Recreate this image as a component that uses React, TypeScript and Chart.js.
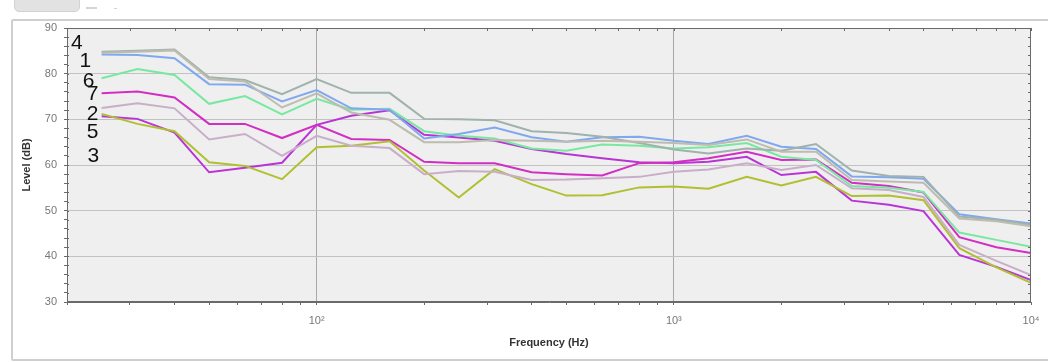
import React, { useEffect, useRef } from 'react';
import { Chart, registerables } from 'chart.js';
Chart.register(...registerables);

const frequencies = [25, 31.5, 40, 50, 63, 80, 100, 125, 160, 200, 250, 315, 400, 500, 630, 800, 1000, 1250, 1600, 2000, 2500, 3150, 4000, 5000, 6300, 8000, 10000];

const levels4 = [84.8, 85.0, 85.3, 79.2, 78.6, 75.5, 78.8, 75.8, 75.8, 70.1, 70.0, 69.8, 67.4, 67.0, 66.2, 64.8, 63.4, 62.5, 63.6, 63.1, 64.6, 58.8, 57.6, 57.4, 48.7, 48.0, 46.9];
const levelsMean = [84.6, 84.8, 85.1, 78.8, 78.3, 72.6, 75.7, 71.5, 69.9, 65.0, 65.0, 65.5, 65.3, 65.1, 65.3, 65.1, 64.8, 64.4, 65.6, 62.9, 62.9, 56.7, 56.4, 56.1, 48.3, 47.7, 46.6];
const levels1 = [84.2, 84.1, 83.4, 77.7, 77.6, 73.9, 76.4, 72.4, 72.1, 65.8, 66.8, 68.2, 66.1, 65.1, 66.1, 66.2, 65.3, 64.6, 66.4, 64.0, 63.5, 57.5, 57.3, 57.0, 49.2, 48.1, 47.2];
const levels6 = [79.0, 81.0, 79.7, 73.4, 75.1, 71.1, 74.5, 72.1, 72.3, 67.4, 66.4, 65.8, 63.6, 63.1, 64.5, 64.2, 63.6, 63.9, 64.8, 61.8, 61.1, 55.4, 55.0, 54.1, 45.2, 43.6, 42.1];
const levels7 = [75.7, 76.1, 74.8, 69.0, 69.0, 65.9, 68.8, 65.7, 65.5, 60.7, 60.4, 60.4, 58.4, 58.0, 57.7, 60.4, 60.6, 61.5, 62.9, 61.1, 61.2, 56.1, 55.4, 54.0, 44.2, 42.0, 40.7];
const levels5 = [70.7, 70.1, 67.1, 58.4, 59.4, 60.5, 68.8, 70.8, 72.0, 66.6, 66.0, 65.3, 63.5, 62.4, 61.5, 60.6, 60.4, 60.7, 61.8, 57.8, 58.5, 52.2, 51.3, 49.9, 40.3, 37.7, 34.8];
const levels2 = [72.5, 73.5, 72.4, 65.6, 66.8, 62.0, 66.4, 64.2, 63.7, 58.0, 58.7, 58.5, 56.7, 56.8, 57.1, 57.4, 58.5, 59.0, 60.4, 58.9, 60.0, 54.9, 54.5, 53.0, 42.5, 39.0, 35.9];
const levels3 = [71.2, 69.0, 67.4, 60.6, 59.8, 56.9, 63.9, 64.2, 65.2, 58.8, 52.9, 59.1, 55.8, 53.3, 53.4, 55.1, 55.3, 54.8, 57.4, 55.5, 57.4, 53.2, 53.3, 52.3, 41.8, 37.6, 34.2];

const seriesNames = ['mean', '4', '1', '6', '2', '3', '7', '5'];
const seriesLevels = [levelsMean, levels4, levels1, levels6, levels2, levels3, levels7, levels5];
const seriesColors = ['#bdbcae', '#9fb2ad', '#80a8f0', '#78e8a0', '#c8aec8', '#b0c030', '#d22ec4', '#b934d6'];

const labelTexts = ['4', '1', '6', '7', '2', '5', '3'];
const labelFreqs = [21.3, 22.5, 23.0, 23.6, 23.6, 23.6, 23.7];
const labelLevels = [87.15, 83.1, 78.7, 75.9, 71.5, 67.55, 62.4];

const xMin = 20;
const xMax = 10000;
const yMin = 30;
const yMax = 90;
const yStep = 2;
const xTitle = 'Frequency (Hz)';
const yTitle = 'Level (dB)';

const FONT = '"Liberation Sans", Arial, sans-serif';
const supers: Record<string, string> = { '0': '⁰', '1': '¹', '2': '²', '3': '³', '4': '⁴', '5': '⁵' };

const isDecade = (v: number) => {
  const l = Math.log10(v);
  return Math.abs(l - Math.round(l)) < 1e-9;
};

const decorPlugin = {
  id: 'decor',
  beforeDraw(chart: any) {
    const { ctx, chartArea: a } = chart;
    ctx.save();
    ctx.fillStyle = '#efefef';
    ctx.fillRect(a.left, a.top, a.right - a.left, a.bottom - a.top);
    ctx.restore();
  },
  afterDraw(chart: any) {
    const { ctx, chartArea: a } = chart;
    const xs = chart.scales.x;
    const ys = chart.scales.y;
    ctx.save();
    ctx.strokeStyle = '#6a6a6a';
    ctx.lineWidth = 1;
    ctx.strokeRect(a.left + 0.5, a.top + 0.5, a.right - a.left - 1, a.bottom - a.top - 1);
    ctx.beginPath();
    xs.ticks.forEach((t: any) => {
      const px = Math.round(xs.getPixelForValue(t.value)) + 0.5;
      ctx.moveTo(px, a.top);
      ctx.lineTo(px, a.top + 3);
    });
    ys.ticks.forEach((t: any) => {
      const py = Math.round(ys.getPixelForValue(t.value)) + 0.5;
      ctx.moveTo(a.right, py);
      ctx.lineTo(a.right - 3, py);
      ctx.moveTo(a.left, py);
      ctx.lineTo(a.left + 2, py);
    });
    ctx.stroke();
    ctx.fillStyle = '#111';
    ctx.font = `21px ${FONT}`;
    ctx.textAlign = 'center';
    ctx.textBaseline = 'alphabetic';
    labelTexts.forEach((txt, i) => {
      const px = xs.getPixelForValue(labelFreqs[i]);
      const py = ys.getPixelForValue(labelLevels[i]);
      ctx.fillText(txt, px, py + 7.5);
    });
    ctx.restore();
  },
};

export default function App() {
  const ref = useRef<HTMLCanvasElement | null>(null);
  useEffect(() => {
    document.body.style.margin = '0';
    const canvas = ref.current;
    if (!canvas) return;
    const chart = new Chart(canvas, {
      type: 'line',
      data: {
        datasets: seriesNames.map((name, i) => ({
          label: name,
          data: frequencies.map((f, j) => ({ x: f, y: seriesLevels[i][j] })),
          borderColor: seriesColors[i],
          backgroundColor: seriesColors[i],
          borderWidth: 2,
          pointRadius: 0,
          tension: 0,
          fill: false,
        })),
      },
      options: {
        animation: false,
        responsive: false,
        maintainAspectRatio: false,
        events: [],
        layout: { padding: { left: 0, top: 28, right: 17, bottom: 0 } },
        plugins: {
          legend: { display: false },
          tooltip: { enabled: false },
          title: { display: false },
        },
        scales: {
          x: {
            type: 'logarithmic',
            min: xMin,
            max: xMax,
            afterBuildTicks: (s: any) => {
              s.ticks = s.ticks.filter((t: any) => {
                const e = Math.pow(10, Math.floor(Math.log10(t.value) + 1e-9));
                const r = t.value / e;
                return Math.abs(r - Math.round(r)) < 1e-6;
              });
            },
            afterFit: (s: any) => {
              s.height = 60;
              s.paddingLeft = 0;
              s.paddingRight = 0;
            },
            border: { display: true, color: '#6a6a6a', width: 1 },
            grid: {
              color: (c: any) => (c.tick && isDecade(c.tick.value) && c.tick.value > xMin && c.tick.value < xMax ? '#a8a8a8' : 'rgba(0,0,0,0)'),
              tickColor: '#6a6a6a',
              tickLength: 3,
              lineWidth: 1,
            },
            ticks: {
              autoSkip: false,
              maxRotation: 0,
              padding: 9,
              color: '#777',
              font: { family: FONT, size: 11 },
              callback: (v: any) => {
                const n = Number(v);
                if (!isDecade(n)) return '';
                const ex = String(Math.round(Math.log10(n)));
                return '10' + ex.split('').map((d) => supers[d] || d).join('');
              },
            },
            title: {
              display: true,
              text: xTitle,
              color: '#333',
              font: { family: FONT, size: 11, weight: 'bold' },
              padding: { top: 0, bottom: 12 },
            },
          },
          y: {
            type: 'linear',
            min: yMin,
            max: yMax,
            afterFit: (s: any) => {
              s.width = 67;
              s.paddingTop = 0;
              s.paddingBottom = 0;
            },
            border: { display: true, color: '#6a6a6a', width: 1 },
            grid: {
              color: (c: any) => (c.tick && c.tick.value % 10 === 0 && c.tick.value > yMin && c.tick.value < yMax ? '#c2c2c2' : 'rgba(0,0,0,0)'),
              tickColor: '#6a6a6a',
              tickLength: 3,
              lineWidth: 1,
            },
            ticks: {
              stepSize: yStep,
              autoSkip: false,
              padding: 7,
              color: '#777',
              font: { family: FONT, size: 11 },
              callback: (v: any) => (Number(v) % 10 === 0 ? String(v) : ''),
            },
            title: {
              display: true,
              text: yTitle,
              color: '#333',
              font: { family: FONT, size: 11, weight: 'bold' },
              padding: { top: 20, bottom: 0 },
            },
          },
        },
      },
      plugins: [decorPlugin],
    } as any);
    return () => chart.destroy();
  }, []);

  return (
    <div style={{ position: 'absolute', left: 0, top: 0, width: 1048, height: 362, background: '#fff', overflow: 'hidden' }}>
      <div style={{ position: 'absolute', left: 14, top: -4, width: 66, height: 16, background: '#e2e2e2', border: '1px solid #d2d2d2', borderRadius: 5, boxSizing: 'border-box' }} />
      <div style={{ position: 'absolute', left: 86, top: 7, width: 11, height: 2, background: '#d4d4d4' }} />
      <div style={{ position: 'absolute', left: 114, top: 8, width: 3, height: 1, background: '#d4d4d4' }} />
      <div style={{ position: 'absolute', left: 11, top: 19, width: 1046, height: 342, border: '2px solid #cfcfcf', borderRadius: 2, boxSizing: 'border-box' }} />
      <canvas ref={ref} width={1048} height={362} style={{ position: 'absolute', left: 0, top: 0, width: 1048, height: 362 }} />
    </div>
  );
}
